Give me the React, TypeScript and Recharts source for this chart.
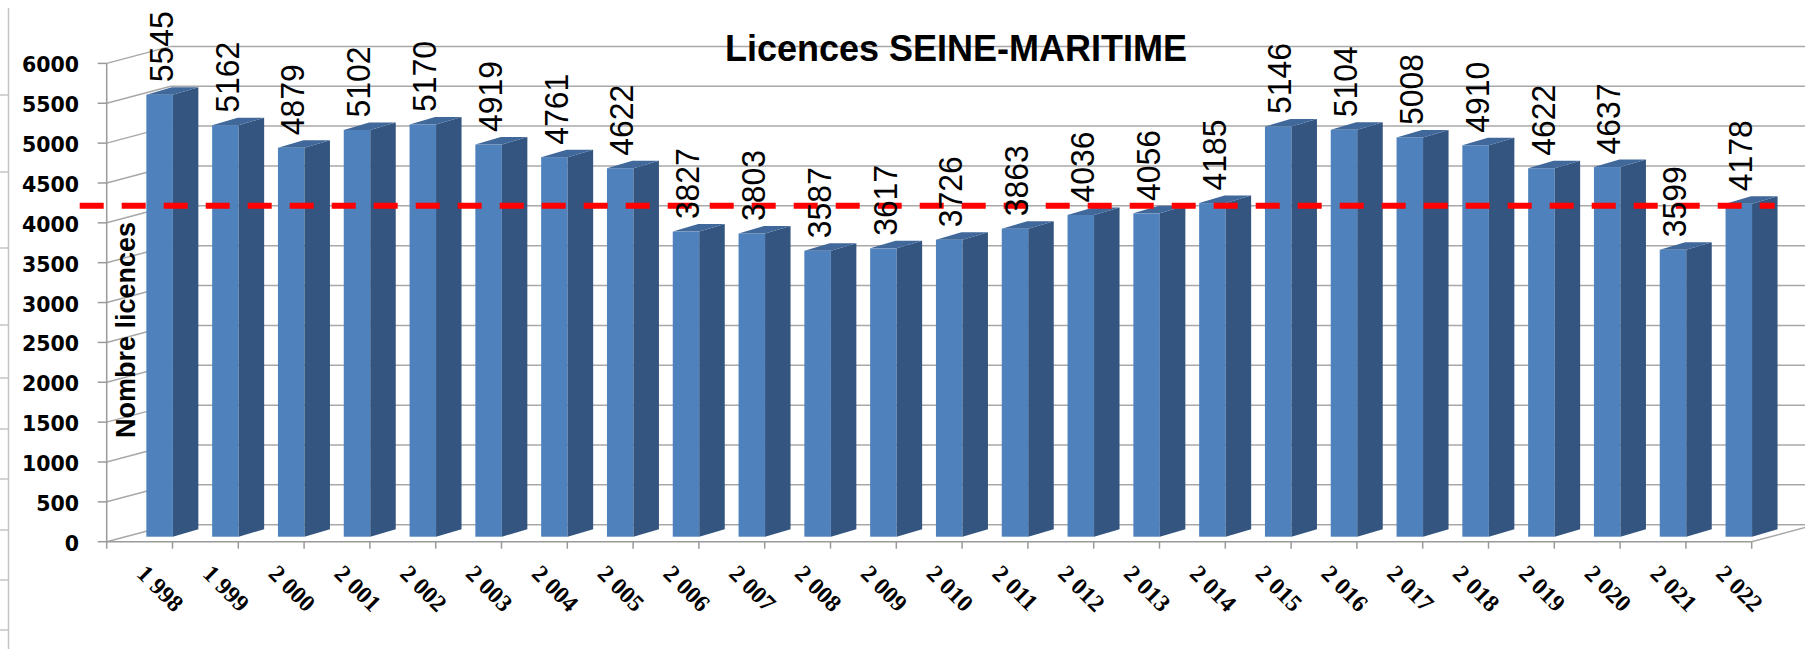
import React from 'react';
import { BarChart, Bar, XAxis, YAxis, CartesianGrid, ReferenceLine, LabelList } from 'recharts';

const YEARS = [
    '1 998', '1 999', '2 000', '2 001', '2 002', '2 003', '2 004', '2 005', '2 006', '2 007',
    '2 008', '2 009', '2 010', '2 011', '2 012', '2 013', '2 014', '2 015', '2 016', '2 017',
    '2 018', '2 019', '2 020', '2 021', '2 022',
];
const LICENCES = [
    5545, 5162, 4879, 5102, 5170, 4919, 4761, 4622, 3827, 3803,
    3587, 3617, 3726, 3863, 4036, 4056, 4185, 5146, 5104, 5008,
    4910, 4622, 4637, 3599, 4178,
];
const Y_TICKS = [0, 500, 1000, 1500, 2000, 2500, 3000, 3500, 4000, 4500, 5000, 5500, 6000];
const TITLE = 'Licences SEINE-MARITIME';
const Y_TITLE = 'Nombre licences';
// dashed red level = last season
const REF_LEVEL = LICENCES[LICENCES.length - 1];

const DATA = YEARS.map((year, i) => ({ year, licences: LICENCES[i] }));

// layout
const CHART_W = 1805;
const CHART_H = 649;
const PLOT_LEFT = 106.7;
const PLOT_RIGHT = 1751.7;
const PLOT_TOP = 63.4;
const PLOT_BOTTOM = 541.7;
const BAND = (PLOT_RIGHT - PLOT_LEFT) / YEARS.length;
const BAR_W = 26.5;
const BAR_SHIFT = BAND / 2 - BAR_W / 2;
const BAR_LIFT = 5;
const DEPTH_X = 25.5;
const DEPTH_Y = 7.5;
const WALL_DX = 64;
const WALL_DY = 17;

const GRID = '#a8a8a8';
const AXIS = '#9a9a9a';
const FRONT = '#4f81bd';
const SIDE = '#33557f';
const TOP = '#40689b';

const Bar3D = (props: any) => {
    const { x, y, height } = props;
    if (height == null || isNaN(height)) return null;
    const fx = x + BAR_SHIFT;
    const fy = y - BAR_LIFT;
    const r = fx + BAR_W;
    const b = fy + height;
    return (
        <g>
            <rect x={fx} y={fy} width={BAR_W} height={height} fill={FRONT} />
            <polygon
                points={`${r},${fy} ${r + DEPTH_X},${fy - DEPTH_Y} ${r + DEPTH_X},${b - DEPTH_Y} ${r},${b}`}
                fill={SIDE}
            />
            <polygon
                points={`${fx},${fy} ${fx + DEPTH_X},${fy - DEPTH_Y} ${r + DEPTH_X},${fy - DEPTH_Y} ${r},${fy}`}
                fill={TOP}
            />
        </g>
    );
};

const ValueLabel = (props: any) => {
    const { x, y, value } = props;
    const lx = x + BAR_SHIFT + BAR_W;
    const ly = y - BAR_LIFT - 12.5;
    return (
        <text
            x={lx} y={ly}
            transform={`rotate(-90 ${lx} ${ly})`}
            fontFamily="'Liberation Sans', Arial, sans-serif"
            fontSize={34}
            textLength={String(value).length * 17.75}
            lengthAdjust="spacingAndGlyphs"
            fill="#000"
        >
            {value}
        </text>
    );
};

const YTick = (props: any) => {
    const { y, payload } = props;
    return (
        <text
            x={79} y={y + 9}
            textAnchor="end"
            fontFamily="'DejaVu Sans', Verdana, sans-serif"
            fontWeight="bold"
            fontSize={20.5}
            fill="#000"
        >
            {payload.value}
        </text>
    );
};

const XTick = (props: any) => {
    const { x, payload, index } = props;
    const right = x + BAND / 2;
    const lx = x - 4;
    const ly = 575;
    return (
        <g>
            <line x1={right} y1={PLOT_BOTTOM} x2={right} y2={PLOT_BOTTOM + 7} stroke={AXIS} strokeWidth={1.5} />
            {index === 0 && (
                <line x1={x - BAND / 2} y1={PLOT_BOTTOM} x2={x - BAND / 2} y2={PLOT_BOTTOM + 7} stroke={AXIS} strokeWidth={1.5} />
            )}
            <text
                x={lx} y={ly}
                transform={`rotate(45 ${lx} ${ly})`}
                fontFamily="'Liberation Serif', 'Times New Roman', serif"
                fontWeight="bold"
                fontSize={24}
                fill="#000"
            >
                {payload.value}
            </text>
        </g>
    );
};

const wallLine = (p: any) => {
    const { x1, x2, y1, index } = p;
    const bx = x1 + WALL_DX;
    const by = y1 - WALL_DY;
    const isFloor = Math.abs(y1 - PLOT_BOTTOM) < 1;
    return (
        <g key={`wall-${index}`}>
            <line x1={x1} y1={y1} x2={bx} y2={by} stroke={GRID} strokeWidth={1.5} />
            <line x1={bx} y1={by} x2={CHART_W} y2={by} stroke={GRID} strokeWidth={1.5} />
            {isFloor && <line x1={x2} y1={y1} x2={x2 + WALL_DX} y2={by} stroke={GRID} strokeWidth={1.5} />}
        </g>
    );
};

const redLevel = (p: any) => (
    <line
        x1={p.x1 - 27} y1={p.y1 - 3} x2={p.x2 + 23} y2={p.y2 - 3}
        stroke="#ff0000" strokeWidth={6} strokeDasharray="24 18"
    />
);

const FRAME_TICKS = [95, 172, 248, 325, 378, 429, 479, 530, 580, 630];

export default function App() {
    return (
        <div style={{ position: 'absolute', left: 0, top: 0, width: CHART_W, height: CHART_H, background: '#fff' }}>
            <BarChart
                width={CHART_W}
                height={CHART_H}
                data={DATA}
                margin={{ top: PLOT_TOP, right: CHART_W - PLOT_RIGHT, bottom: 0, left: 0 }}
            >
                <CartesianGrid vertical={false} horizontal={wallLine} />
                <XAxis
                    dataKey="year"
                    height={CHART_H - PLOT_BOTTOM}
                    interval={0}
                    tickLine={false}
                    axisLine={{ stroke: AXIS, strokeWidth: 1.5 }}
                    tick={<XTick />}
                />
                <YAxis
                    width={PLOT_LEFT}
                    domain={[0, 6000]}
                    ticks={Y_TICKS}
                    interval={0}
                    tickSize={9}
                    tickLine={{ stroke: AXIS, strokeWidth: 1.5 }}
                    axisLine={{ stroke: AXIS, strokeWidth: 1.5 }}
                    tick={<YTick />}
                />
                <Bar dataKey="licences" barSize={BAR_W} shape={<Bar3D />} isAnimationActive={false}>
                    <LabelList dataKey="licences" content={<ValueLabel />} />
                </Bar>
                <ReferenceLine y={REF_LEVEL} shape={redLevel} />
            </BarChart>
            <svg
                width={CHART_W}
                height={CHART_H}
                style={{ position: 'absolute', left: 0, top: 0, pointerEvents: 'none' }}
            >
                <line x1={8.5} y1={8} x2={8.5} y2={CHART_H} stroke="#c4c4c4" strokeWidth={1.5} />
                {FRAME_TICKS.map((t) => (
                    <line key={t} x1={0} y1={t} x2={8.5} y2={t} stroke="#c4c4c4" strokeWidth={1.5} />
                ))}
                <text
                    x={956} y={61}
                    textAnchor="middle"
                    fontFamily="'Liberation Sans', Arial, sans-serif"
                    fontWeight="bold"
                    fontSize={36}
                    fill="#000"
                >
                    {TITLE}
                </text>
                <text
                    x={135} y={330}
                    transform="rotate(-90 135 330)"
                    textAnchor="middle"
                    fontFamily="'Liberation Sans', Arial, sans-serif"
                    fontWeight="bold"
                    fontSize={27}
                    fill="#000"
                >
                    {Y_TITLE}
                </text>
            </svg>
        </div>
    );
}
